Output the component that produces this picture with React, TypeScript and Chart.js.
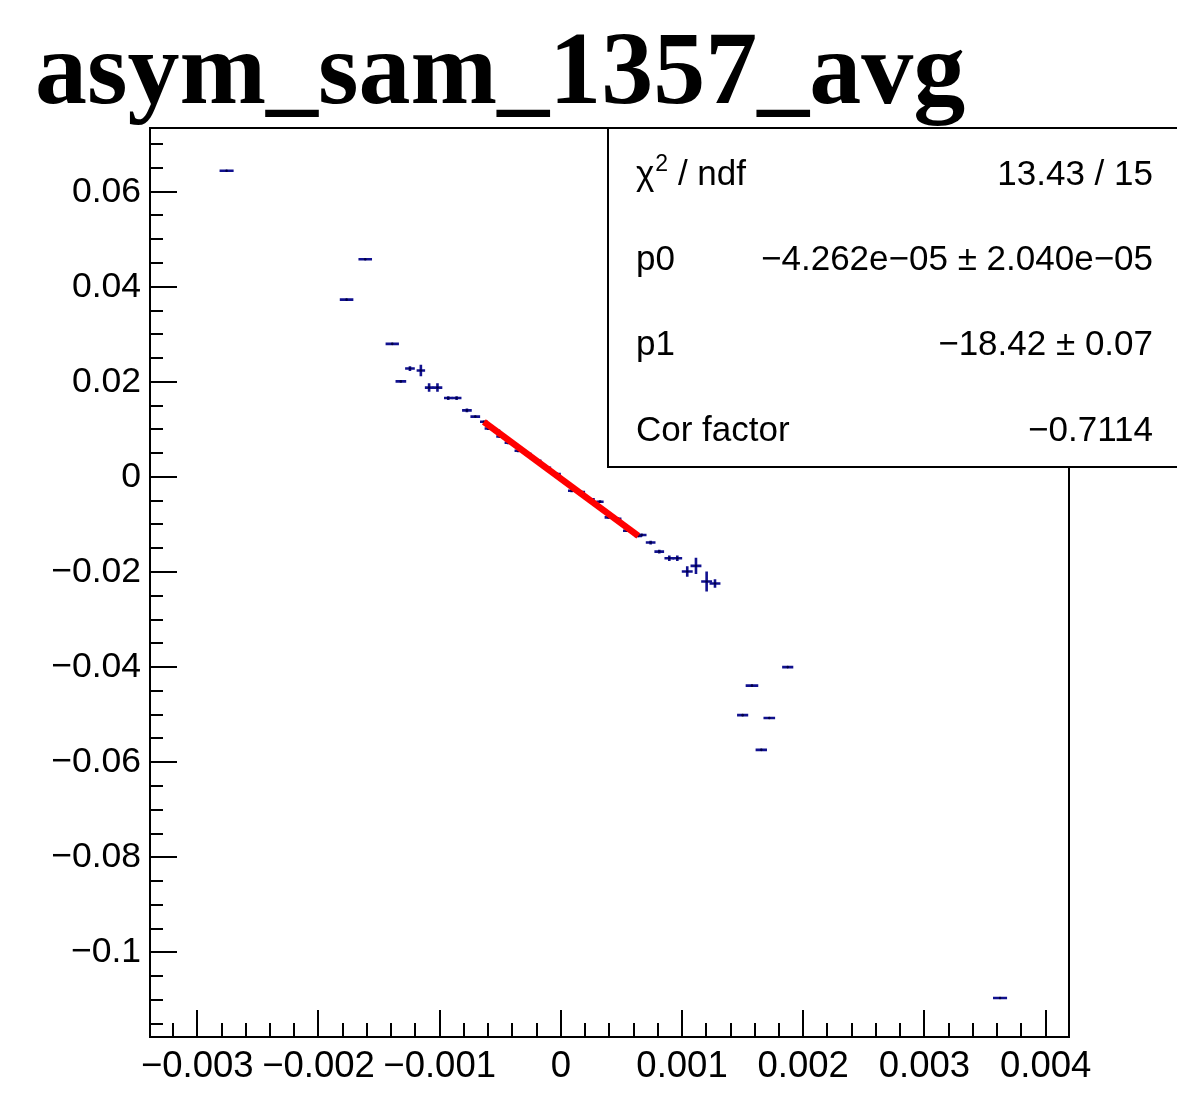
import React, { useEffect, useRef } from "react";
import { Chart, registerables } from "chart.js";

Chart.register(...registerables);

const W = 1177;
const H = 1097;

// ---- data ----
const xValues = [
  -0.002758, -0.001768, -0.001614, -0.001391, -0.00132, -0.001245, -0.001155, -0.001087, -0.001018,
  -0.000929, -0.00086, -0.000775, -0.000706,
  -0.000635, -0.000599, -0.00053, -0.000503, -0.000434, -0.000352, -0.00027, -0.00019, -0.00011,
  -0.00003, 0.000089, 0.00017, 0.00025, 0.000323, 0.000391, 0.00047, 0.000543, 0.000639,
  0.000667, 0.000741, 0.000812, 0.000895, 0.000961, 0.001043, 0.001115, 0.001203, 0.001272,
  0.0015, 0.001577, 0.001654, 0.00172, 0.001872, 0.003624,
];
const yValues = [
  0.0644, 0.0373, 0.0458, 0.028, 0.0201, 0.0228, 0.0224, 0.0188, 0.0188,
  0.0166, 0.0166, 0.014, 0.0127,
  0.0116, 0.0102, 0.0097, 0.0085, 0.0072, 0.0055, 0.0048, 0.0034, 0.0019,
  0.0006, -0.0029, -0.0032, -0.0047, -0.0052, -0.0085, -0.0088, -0.0113, -0.0124,
  -0.0122, -0.0138, -0.0157, -0.0171, -0.0171, -0.0199, -0.0187, -0.022, -0.0224,
  -0.0501, -0.0439, -0.0574, -0.0507, -0.04, -0.1096,
];
const xErrors = [
  0.000058, 0.000056, 0.000056, 0.000055, 0.000044, 0.000040, 0.000035, 0.000035, 0.000040,
  0.000035, 0.000040, 0.000040, 0.000040,
  0.000032, 0.000030, 0.000030, 0.000030, 0.000030, 0.000030, 0.000030, 0.000030, 0.000030,
  0.000030, 0.000030, 0.000030, 0.000030, 0.000030, 0.000030, 0.000030, 0.000030, 0.000030,
  0.000040, 0.000040, 0.000040, 0.000040, 0.000040, 0.000045, 0.000045, 0.000045, 0.000045,
  0.000046, 0.000052, 0.000047, 0.000048, 0.000046, 0.000058,
];
const yErrors = [
  0.0002, 0.0002, 0.0002, 0.0002, 0.0002, 0.0005, 0.0012, 0.0009, 0.0009,
  0.0004, 0.0004, 0.0004, 0.0003,
  0.0003, 0.0003, 0.0003, 0.0003, 0.0003, 0.0003, 0.0003, 0.0003, 0.0003,
  0.0003, 0.0003, 0.0003, 0.0003, 0.0003, 0.0003, 0.0003, 0.0003, 0.0003,
  0.0003, 0.0004, 0.0004, 0.0006, 0.0006, 0.0011, 0.0017, 0.0021, 0.0009,
  0.0002, 0.0002, 0.0002, 0.0002, 0.0002, 0.0002,
];
const fitX = [-0.000635, 0.000639];
const fitY = [0.0116, -0.0124];

const xMin = -0.00339;
const xMax = 0.004193;
const yMin = -0.1178;
const yMax = 0.0734;

const xTickValues = [-0.003, -0.002, -0.001, 0, 0.001, 0.002, 0.003, 0.004];
const xTickLabels = ["\u22120.003", "\u22120.002", "\u22120.001", "0", "0.001", "0.002", "0.003", "0.004"];
const yTickValues = [-0.1, -0.08, -0.06, -0.04, -0.02, 0, 0.02, 0.04, 0.06];
const yTickLabels = ["\u22120.1", "\u22120.08", "\u22120.06", "\u22120.04", "\u22120.02", "0", "0.02", "0.04", "0.06"];
const xMinorStep = 0.0002;
const xMinorPerMajor = 5;
const yMinorStep = 0.005;
const yMinorPerMajor = 4;

const titleText = "asym_sam_1357_avg";
const statNames = ["\u03C7^2 / ndf", "p0", "p1", "Cor factor"];
const statValues = [
  "13.43 / 15",
  "\u22124.262e\u221205 \u00B1 2.040e\u221205",
  "\u221218.42 \u00B1 0.07",
  "\u22120.7114",
];

const SANS = '"Liberation Sans", Arial, sans-serif';
const MARKER = "#11118f";

const rootPlugin = {
  id: "rootStyle",
  beforeDraw(chart: any) {
    const ctx = chart.ctx;
    ctx.save();
    ctx.fillStyle = "#ffffff";
    ctx.fillRect(0, 0, chart.width, chart.height);
    ctx.restore();
  },
  beforeDatasetsDraw(chart: any) {
    const ctx = chart.ctx;
    const xs = chart.scales.x;
    const ys = chart.scales.y;
    const a = chart.chartArea;
    ctx.save();
    ctx.beginPath();
    ctx.rect(a.left, a.top, a.right - a.left, a.bottom - a.top);
    ctx.clip();
    ctx.strokeStyle = MARKER;
    ctx.lineWidth = 2.6;
    ctx.lineCap = "butt";
    for (let i = 0; i < xValues.length; i++) {
      const x = xValues[i];
      const y = yValues[i];
      const px = xs.getPixelForValue(x);
      const py = ys.getPixelForValue(y);
      ctx.beginPath();
      ctx.moveTo(xs.getPixelForValue(x - xErrors[i]), py);
      ctx.lineTo(xs.getPixelForValue(x + xErrors[i]), py);
      ctx.moveTo(px, ys.getPixelForValue(y - yErrors[i]));
      ctx.lineTo(px, ys.getPixelForValue(y + yErrors[i]));
      ctx.stroke();
    }
    ctx.restore();
  },
  afterDraw(chart: any) {
    const ctx = chart.ctx;
    const xs = chart.scales.x;
    const ys = chart.scales.y;
    const a = chart.chartArea;
    ctx.save();
    ctx.strokeStyle = "#000";
    ctx.lineWidth = 2;
    // ticks on left axis
    const kyStart = Math.ceil(yMin / yMinorStep - 1e-9);
    for (let k = kyStart; k * yMinorStep <= yMax + 1e-12; k++) {
      const v = k * yMinorStep;
      const py = Math.round(ys.getPixelForValue(v));
      const len = k % yMinorPerMajor === 0 ? 27 : 13;
      ctx.beginPath();
      ctx.moveTo(a.left, py);
      ctx.lineTo(a.left + len, py);
      ctx.stroke();
    }
    // ticks on bottom axis
    const kxStart = Math.ceil(xMin / xMinorStep - 1e-9);
    for (let k = kxStart; k * xMinorStep <= xMax + 1e-12; k++) {
      const v = k * xMinorStep;
      const px = Math.round(xs.getPixelForValue(v));
      const len = k % xMinorPerMajor === 0 ? 27 : 14;
      ctx.beginPath();
      ctx.moveTo(px, a.bottom);
      ctx.lineTo(px, a.bottom - len);
      ctx.stroke();
    }
    // frame
    ctx.lineWidth = 2;
    ctx.strokeRect(a.left, a.top, a.right - a.left, a.bottom - a.top);

    // title
    ctx.fillStyle = "#000";
    ctx.font = 'bold 104px "Liberation Serif", "Times New Roman", serif';
    ctx.textAlign = "left";
    ctx.textBaseline = "alphabetic";
    ctx.fillText(titleText, 35, 103);

    // stats box
    const bx = 608;
    const by = a.top;
    const bh = 339;
    ctx.fillStyle = "#fff";
    ctx.fillRect(bx, by, chart.width - bx + 4, bh);
    ctx.strokeStyle = "#000";
    ctx.lineWidth = 2;
    ctx.strokeRect(bx, by, chart.width - bx + 4, bh);

    const baselines = [185, 270, 355, 441];
    ctx.fillStyle = "#000";
    for (let i = 0; i < statNames.length; i++) {
      const name = statNames[i];
      const yb = baselines[i];
      ctx.textAlign = "left";
      const caret = name.indexOf("^");
      if (caret >= 0) {
        const base = name.slice(0, caret);
        const sup = name.slice(caret + 1, caret + 2);
        const rest = name.slice(caret + 2);
        ctx.font = "35px " + SANS;
        ctx.fillText(base, 636, yb);
        let cx = 636 + ctx.measureText(base).width + 1;
        ctx.font = "23px " + SANS;
        ctx.fillText(sup, cx, yb - 14);
        cx += ctx.measureText(sup).width;
        ctx.font = "35px " + SANS;
        ctx.fillText(rest, cx, yb);
      } else {
        ctx.font = "35px " + SANS;
        ctx.fillText(name, 636, yb);
      }
      ctx.textAlign = "right";
      ctx.font = "35px " + SANS;
      ctx.fillText(statValues[i], 1153, yb);
    }
    ctx.restore();
  },
};

export default function App() {
  const ref = useRef<HTMLCanvasElement>(null);
  useEffect(() => {
    const canvas = ref.current;
    if (!canvas) return;
    const points = xValues.map((x, i) => ({ x, y: yValues[i] }));
    const fitPoints = fitX.map((x, i) => ({ x, y: fitY[i] }));
    const chart = new Chart(canvas, {
      type: "scatter",
      data: {
        datasets: [
          {
            type: "line",
            data: fitPoints,
            borderColor: "#ff0000",
            borderWidth: 6.5,
            pointRadius: 0,
            showLine: true,
            fill: false,
            order: 0,
          } as any,
          {
            type: "scatter",
            data: points,
            pointRadius: 1.3,
            pointBackgroundColor: "#000044",
            pointBorderWidth: 0,
            order: 1,
          } as any,
        ],
      },
      options: {
        responsive: false,
        animation: false,
        devicePixelRatio: 1,
        layout: { padding: { top: 128, right: 108, bottom: 0, left: 0 } },
        plugins: {
          legend: { display: false },
          tooltip: { enabled: false },
          title: { display: false },
        },
        scales: {
          x: {
            type: "linear",
            min: xMin,
            max: xMax,
            grid: { display: false, drawTicks: false },
            border: { display: false },
            afterBuildTicks: (s: any) => {
              s.ticks = xTickValues.map((v) => ({ value: v }));
            },
            afterFit: (s: any) => {
              s.height = 60;
            },
            ticks: {
              autoSkip: false,
              maxRotation: 0,
              minRotation: 0,
              padding: 8,
              color: "#000",
              font: { family: SANS, size: 36.5 },
              callback: (_v: any, i: number) => xTickLabels[i],
            },
          },
          y: {
            type: "linear",
            min: yMin,
            max: yMax,
            grid: { display: false, drawTicks: false },
            border: { display: false },
            afterBuildTicks: (s: any) => {
              s.ticks = yTickValues.map((v) => ({ value: v }));
            },
            afterFit: (s: any) => {
              s.width = 150;
            },
            ticks: {
              autoSkip: false,
              padding: 9,
              color: "#000",
              font: { family: SANS, size: 35.5 },
              callback: (_v: any, i: number) => yTickLabels[i],
            },
          },
        },
      },
      plugins: [rootPlugin],
    });
    return () => chart.destroy();
  }, []);
  return (
    <div style={{ position: "absolute", left: 0, top: 0, width: W, height: H }}>
      <canvas ref={ref} width={W} height={H} style={{ width: W, height: H, display: "block" }} />
    </div>
  );
}
